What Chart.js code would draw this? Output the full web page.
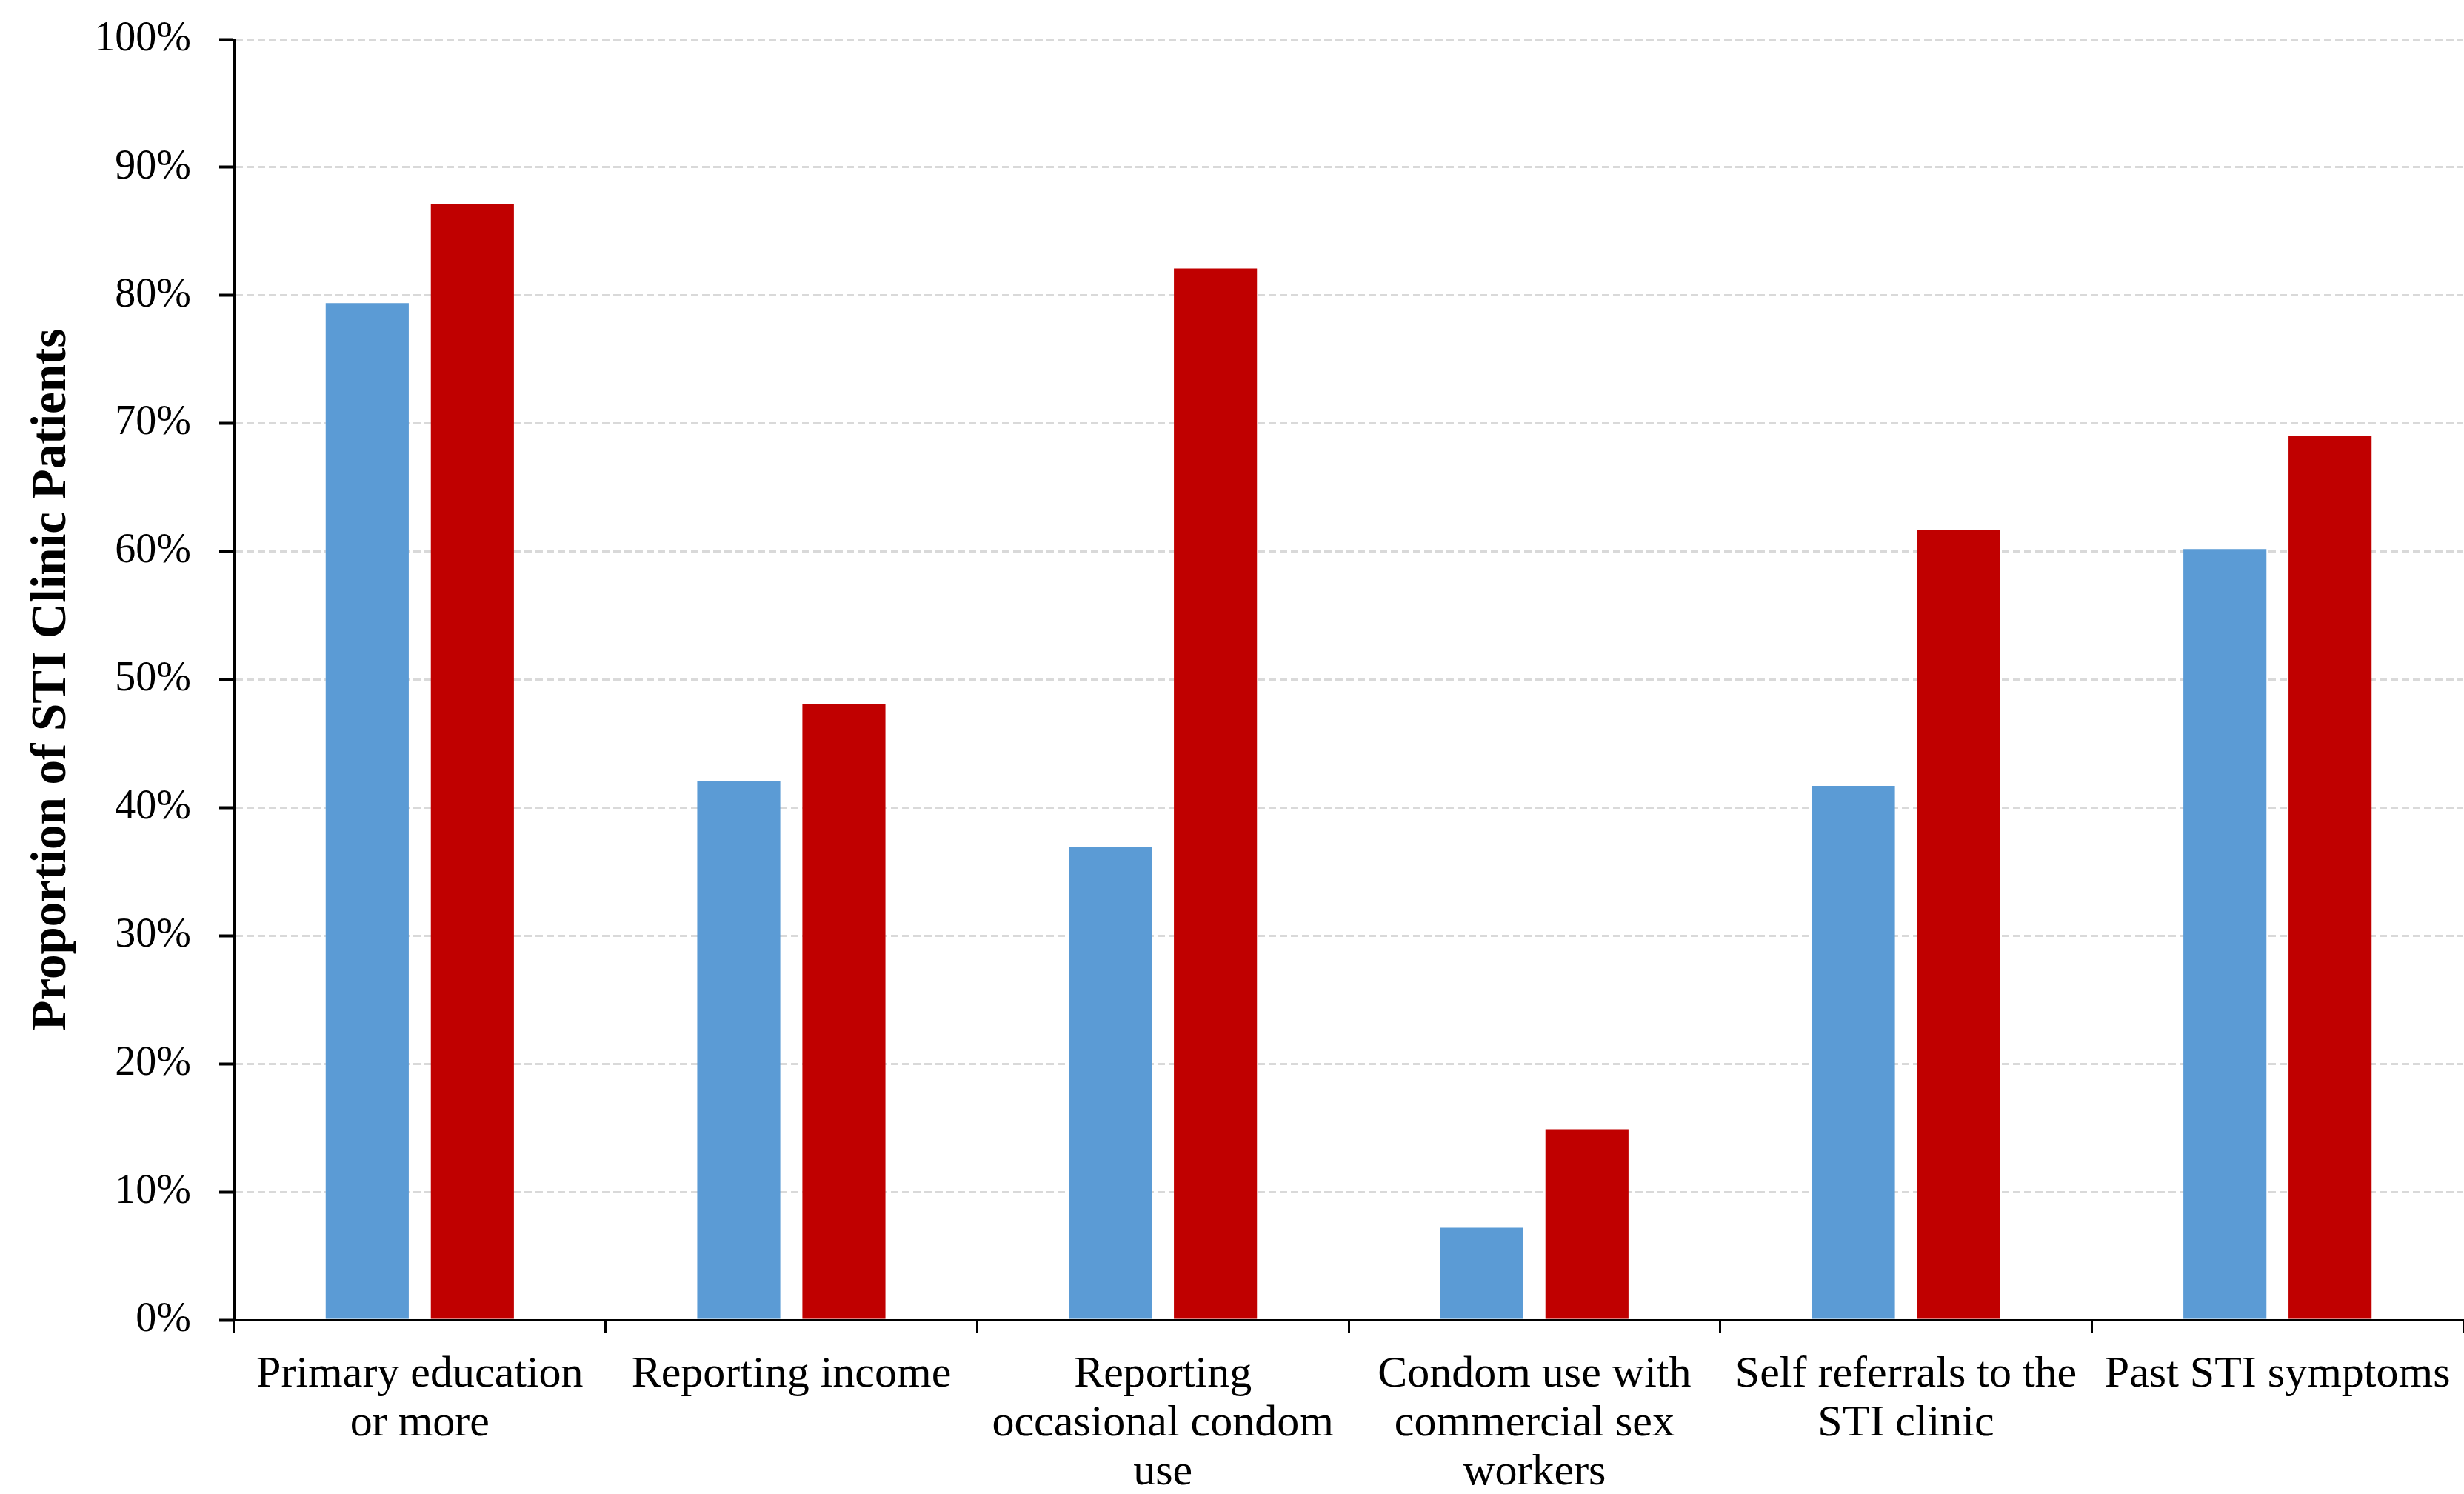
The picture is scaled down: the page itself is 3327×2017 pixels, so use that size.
<!DOCTYPE html>
<html>
<head>
<meta charset="utf-8">
<title>Proportion of STI Clinic Patients</title>
<script src="https://cdn.jsdelivr.net/npm/chart.js@4/dist/chart.umd.min.js"></script>
<style>
  html, body { margin: 0; padding: 0; background: #ffffff; }
  #wrap { width: 3327px; height: 2017px; }
</style>
</head>
<body>
<div id="wrap"><canvas id="chart" width="3327" height="2017"></canvas></div>
<script>
// Category labels (line breaks as printed under the axis)
const categories = [
  ['Primary education', 'or more'],
  'Reporting income',
  ['Reporting', 'occasional condom', 'use'],
  ['Condom use with', 'commercial sex', 'workers'],
  ['Self referrals to the', 'STI clinic'],
  'Past STI symptoms'
];

// Percent of patients in each group
const seriesBlue = [79.4, 42.1, 36.9, 7.2, 41.7, 60.2];
const seriesRed  = [87.1, 48.1, 82.1, 14.9, 61.7, 69.0];

// Y axis ticks
const yTicks = [0, 10, 20, 30, 40, 50, 60, 70, 80, 90, 100];

const serif = '"Liberation Serif", "Times New Roman", Times, serif';

new Chart(document.getElementById('chart'), {
  type: 'bar',
  data: {
    labels: categories,
    datasets: [
      {
        label: 'Group 1',
        data: seriesBlue,
        backgroundColor: '#5B9BD5',
        borderWidth: 0,
        categoryPercentage: 0.566,
        barPercentage: 0.79
      },
      {
        label: 'Group 2',
        data: seriesRed,
        backgroundColor: '#C00000',
        borderWidth: 0,
        categoryPercentage: 0.566,
        barPercentage: 0.79
      }
    ]
  },
  options: {
    responsive: false,
    animation: false,
    devicePixelRatio: 1,
    layout: { padding: { top: 53, right: 1, bottom: 0, left: 0 } },
    plugins: {
      legend: { display: false },
      tooltip: { enabled: false }
    },
    scales: {
      x: {
        offset: true,
        afterFit: (scale) => {
          scale.height = 235;
          scale.paddingLeft = 0;
          scale.paddingRight = 0;
        },
        grid: {
          display: true,
          offset: true,
          drawOnChartArea: false,
          drawTicks: true,
          tickLength: 17,
          tickColor: '#000000',
          tickWidth: 3
        },
        border: { display: true, color: '#000000', width: 3 },
        ticks: {
          autoSkip: false,
          maxRotation: 0,
          minRotation: 0,
          padding: 24,
          color: '#000000',
          font: { family: serif, size: 60, lineHeight: 1.1 }
        }
      },
      y: {
        min: 0,
        max: 100,
        afterFit: (scale) => {
          scale.width = 316;
          scale.paddingTop = 0;
          scale.paddingBottom = 0;
        },
        afterBuildTicks: (scale) => {
          scale.ticks = yTicks.map(v => ({ value: v }));
        },
        grid: {
          color: (ctx) => (ctx.tick && ctx.tick.value === 0) ? 'rgba(0,0,0,0)' : '#d9d9d9',
          lineWidth: 3,
          drawTicks: true,
          tickLength: 20,
          tickColor: '#000000',
          tickWidth: 4,
          tickBorderDash: []
        },
        border: { display: true, color: '#000000', width: 3, dash: [10, 5] },
        ticks: {
          padding: 38,
          color: '#000000',
          font: { family: serif, size: 56 },
          callback: (v) => v + '%'
        },
        title: {
          display: true,
          text: 'Proportion of STI Clinic Patients',
          color: '#000000',
          padding: { top: 30, bottom: 0 },
          font: { family: serif, size: 67, weight: 'bold' }
        }
      }
    }
  }
});
</script>
</body>
</html>
